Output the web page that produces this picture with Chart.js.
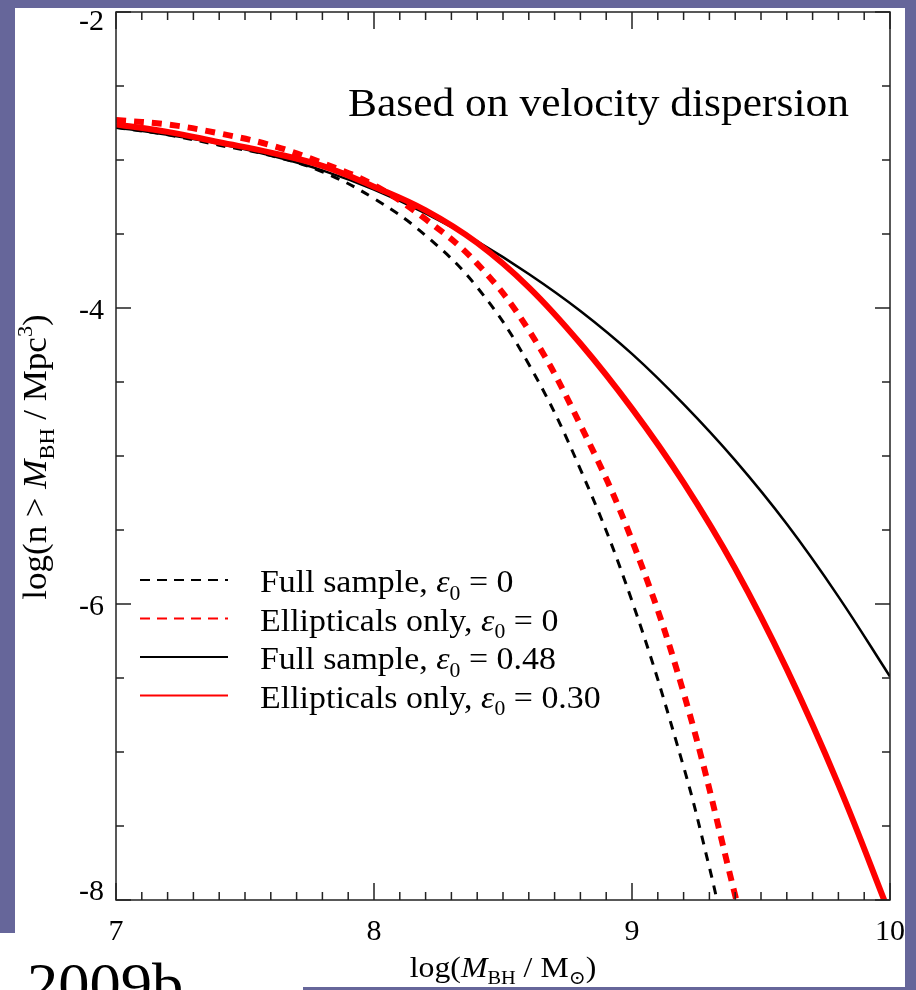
<!DOCTYPE html>
<html lang="en">
<head>
  <meta charset="UTF-8" />
  <title>Black hole mass function - velocity dispersion</title>
  <script src="https://cdn.jsdelivr.net/npm/chart.js"></script>
  <style>
    html, body { margin: 0; padding: 0; background: #fff; }
    #wrap { position: relative; width: 916px; height: 990px; background: #fff; }
  </style>
</head>
<body>
<div id="wrap"><canvas id="bhmf"></canvas></div>

<script>
// values: log(M_BH / Msun) -> log(n > M_BH / Mpc^3)
const logMFullZero = [7.0, 7.2, 7.4, 7.6, 7.8, 8.0, 8.2, 8.4, 8.6, 8.8, 9.0, 9.2, 9.3, 9.35];
const logNFullZero = [-2.78, -2.83, -2.90, -2.97, -3.08, -3.26, -3.51, -3.86, -4.38, -5.09, -5.98, -7.10, -7.78, -8.16];

const logMEllZero = [7.0, 7.2, 7.4, 7.6, 7.8, 8.0, 8.2, 8.4, 8.6, 8.8, 9.0, 9.2, 9.4, 9.45];
const logNEllZero = [-2.73, -2.76, -2.82, -2.90, -3.02, -3.17, -3.40, -3.70, -4.15, -4.79, -5.57, -6.60, -7.97, -8.35];

const logMFullScatter = [7.0, 7.2, 7.4, 7.6, 7.8, 8.0, 8.2, 8.4, 8.6, 8.8, 9.0, 9.2, 9.4, 9.6, 9.8, 10.0];
const logNFullScatter = [-2.78, -2.83, -2.89, -2.97, -3.07, -3.20, -3.36, -3.55, -3.77, -4.02, -4.31, -4.65, -5.03, -5.46, -5.95, -6.49];

const logMEllScatter = [7.0, 7.2, 7.4, 7.6, 7.8, 8.0, 8.2, 8.4, 8.6, 8.8, 9.0, 9.2, 9.4, 9.6, 9.8, 10.0];
const logNEllScatter = [-2.76, -2.81, -2.88, -2.95, -3.04, -3.18, -3.34, -3.56, -3.86, -4.24, -4.68, -5.18, -5.76, -6.44, -7.22, -8.10];

const seriesLabels = [
  'Full sample, ε0 = 0',
  'Ellipticals only, ε0 = 0',
  'Full sample, ε0 = 0.48',
  'Ellipticals only, ε0 = 0.30'
];

const xRange = [7, 10];
const yRange = [-8, -2];

const SERIF = '"Liberation Serif", "Times New Roman", "DejaVu Serif", serif';
const STRETCH = 1.06;
const FRAME = '#66669a';

function pts(xs, ys) {
  return xs.map((x, i) => ({ x: x, y: ys[i] }));
}

// draw text made of pieces: [text, 'n' | 'i' | 'sub' | 'sup']
function drawRich(ctx, parts, x, y, size, align, rot) {
  const fontOf = st => {
    const s = (st === 'sub' || st === 'sup') ? size * 0.64 : size;
    return (st === 'i' ? 'italic ' : '') + s + 'px ' + SERIF;
  };
  let w = 0;
  parts.forEach(([t, st]) => { ctx.font = fontOf(st); w += ctx.measureText(t).width; });
  ctx.save();
  ctx.translate(x, y);
  if (rot) ctx.rotate(rot);
  ctx.scale(STRETCH, 1);
  ctx.fillStyle = '#000';
  ctx.textBaseline = 'alphabetic';
  ctx.textAlign = 'left';
  let cx = align === 'center' ? -w / 2 : 0;
  parts.forEach(([t, st]) => {
    ctx.font = fontOf(st);
    const dy = st === 'sub' ? size * 0.24 : st === 'sup' ? -size * 0.42 : 0;
    ctx.fillText(t, cx, dy);
    cx += ctx.measureText(t).width;
  });
  ctx.restore();
}

function labelParts(label) {
  const [a, b] = label.split('ε0');
  return [[a, 'n'], ['ε', 'i'], ['0', 'sub'], [b, 'n']];
}

// inward ticks on all four sides plus the frame box
const axisBox = {
  id: 'axisBox',
  afterDatasetsDraw(chart) {
    const { ctx, chartArea: { left, right, top, bottom }, scales: { x, y } } = chart;
    ctx.save();
    ctx.strokeStyle = '#222';
    ctx.lineWidth = 1.5;
    ctx.strokeRect(left, top, right - left, bottom - top);
    ctx.beginPath();
    for (let i = 0; i <= (x.max - x.min) * 10; i++) {
      const px = x.getPixelForValue(x.min + i * 0.1);
      const len = i % 10 === 0 ? 17 : 8;
      ctx.moveTo(px, bottom); ctx.lineTo(px, bottom - len);
      ctx.moveTo(px, top); ctx.lineTo(px, top + len);
    }
    for (let i = 0; i <= (y.max - y.min) * 2; i++) {
      const py = y.getPixelForValue(y.min + i * 0.5);
      const len = i % 4 === 0 ? 15 : 8;
      ctx.moveTo(left, py); ctx.lineTo(left + len, py);
      ctx.moveTo(right, py); ctx.lineTo(right - len, py);
    }
    ctx.stroke();

    // y tick labels from the scale, end labels pulled inside like the original
    ctx.font = '30px ' + SERIF;
    ctx.fillStyle = '#000';
    ctx.textAlign = 'right';
    ctx.textBaseline = 'middle';
    y.ticks.forEach((t, i) => {
      const py = y.getPixelForValue(t.value);
      const off = i === 0 ? -8 : i === y.ticks.length - 1 ? 10 : 3;
      ctx.fillText(t.label, left - 12, py + off);
    });
    ctx.restore();
  }
};

// legend, annotation, axis titles and slide frame
const extras = {
  id: 'extras',
  afterDraw(chart) {
    const { ctx, chartArea: { left, right, top, bottom } } = chart;
    const midX = (left + right) / 2;
    const midY = (top + bottom) / 2;

    // legend
    chart.data.datasets.forEach((ds, i) => {
      const ly = 580 + i * 38.5;
      ctx.save();
      ctx.strokeStyle = ds.borderColor;
      ctx.lineWidth = 2;
      ctx.setLineDash(ds.borderDash && ds.borderDash.length ? [10, 7] : []);
      ctx.beginPath();
      ctx.moveTo(140, ly); ctx.lineTo(228, ly);
      ctx.stroke();
      ctx.restore();
      drawRich(ctx, labelParts(ds.label), 260, ly + 12, 32, 'left');
    });

    drawRich(ctx, [['Based on velocity dispersion', 'n']], 348, 116, 41, 'left');

    // axis titles
    drawRich(ctx, [['log(', 'n'], ['M', 'i'], ['BH', 'sub'], [' / M', 'n'], ['⊙', 'sub'], [')', 'n']],
      midX, 977, 30, 'center');
    drawRich(ctx, [['log(n > ', 'n'], ['M', 'i'], ['BH', 'sub'], [' / Mpc', 'n'], ['3', 'sup'], [')', 'n']],
      46, midY + 1, 33, 'center', -Math.PI / 2);

    // slide frame
    ctx.save();
    ctx.fillStyle = FRAME;
    ctx.fillRect(0, 0, 916, 8);
    ctx.fillRect(0, 0, 15, 933);
    ctx.fillRect(905, 0, 11, 990);
    ctx.fillRect(303, 987, 613, 3);
    ctx.restore();

    drawRich(ctx, [['2009b', 'n']], 27, 1004, 59, 'left');
  }
};

const tickFont = { family: SERIF, size: 30 };

new Chart(document.getElementById('bhmf'), {
  type: 'scatter',
  data: {
    datasets: [
      { label: seriesLabels[0], data: pts(logMFullZero, logNFullZero), borderColor: '#000', borderWidth: 3,
        borderDash: [9, 8], order: 2 },
      { label: seriesLabels[1], data: pts(logMEllZero, logNEllZero), borderColor: '#ff0000', borderWidth: 6,
        borderDash: [10, 8], order: 0 },
      { label: seriesLabels[2], data: pts(logMFullScatter, logNFullScatter), borderColor: '#000', borderWidth: 2.5,
        borderDash: [], order: 3 },
      { label: seriesLabels[3], data: pts(logMEllScatter, logNEllScatter), borderColor: '#ff0000', borderWidth: 6,
        borderDash: [], order: 1 }
    ].map(ds => Object.assign(ds, { showLine: true, pointRadius: 0, fill: false, tension: 0.4 }))
  },
  options: {
    responsive: true,
    maintainAspectRatio: false,
    animation: false,
    layout: { padding: { top: 12, right: 26, left: 0, bottom: 0 } },
    plugins: { legend: { display: false }, tooltip: { enabled: false } },
    scales: {
      x: {
        type: 'linear', min: xRange[0], max: xRange[1],
        grid: { display: false, drawTicks: false },
        border: { display: false },
        ticks: { stepSize: 1, font: tickFont, color: '#000', padding: 14, maxRotation: 0 },
        afterFit(s) { s.height = 90; s.paddingLeft = 0; s.paddingRight = 0; }
      },
      y: {
        type: 'linear', min: yRange[0], max: yRange[1],
        grid: { display: false, drawTicks: false },
        border: { display: false },
        ticks: { stepSize: 2, display: false },
        afterFit(s) { s.width = 116; s.paddingTop = 0; s.paddingBottom = 0; }
      }
    }
  },
  plugins: [axisBox, extras]
});
</script>
</body>
</html>
